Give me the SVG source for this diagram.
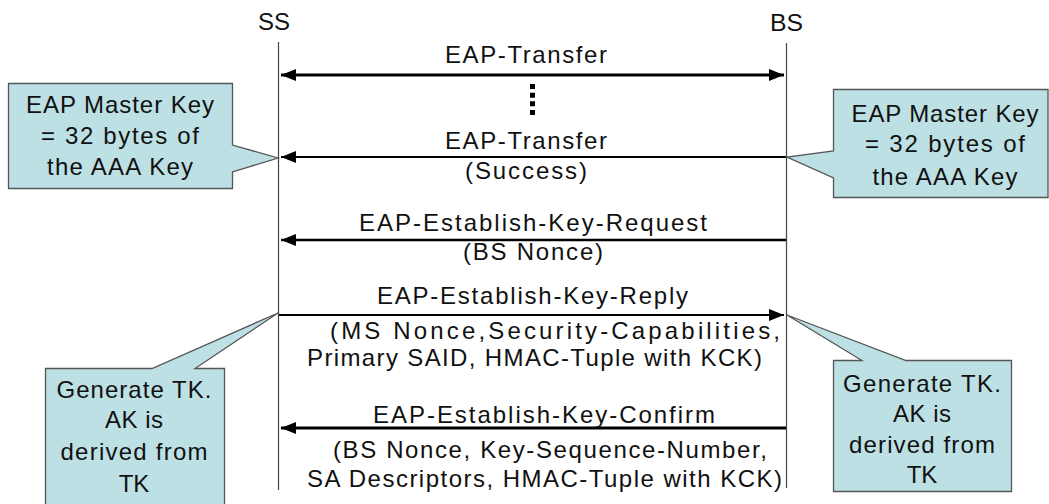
<svg xmlns="http://www.w3.org/2000/svg" width="1049" height="504" viewBox="0 0 1049 504">
<style>
text{font-family:"Liberation Sans","DejaVu Sans",sans-serif;font-size:24px;fill:#111}
.c{text-anchor:middle}
.life{stroke:#444;stroke-width:1.2;fill:none}
.msg{stroke:#000;fill:none}
.call{fill:#bde0e4;stroke:#555;stroke-width:1.3}
</style>
<defs>
<marker id="ah" markerUnits="userSpaceOnUse" markerWidth="16" markerHeight="12" refX="15" refY="6" orient="auto-start-reverse" viewBox="0 0 16 12">
<path d="M0,0 L15,6 L0,12 Z" fill="#000"/>
</marker>
</defs>
<rect width="1049" height="504" fill="#fff"/>
<g id="ss">
<text x="258" y="30" textLength="32" lengthAdjust="spacingAndGlyphs">SS</text>
<line class="life" x1="278.5" y1="42" x2="278.5" y2="490"/>
</g>
<g id="bs">
<text x="770" y="31" textLength="33" lengthAdjust="spacingAndGlyphs">BS</text>
<line class="life" x1="786.5" y1="43" x2="786.5" y2="488"/>
</g>
<g id="connectors">
<line class="msg" x1="281" y1="75" x2="784" y2="75" stroke-width="3" marker-start="url(#ah)" marker-end="url(#ah)"/>
<line x1="532.5" y1="84" x2="532.5" y2="115" stroke="#000" stroke-width="5" stroke-dasharray="5 3.67"/>
<line class="msg" x1="786" y1="157" x2="281" y2="157" stroke-width="2" marker-end="url(#ah)"/>
<line class="msg" x1="786" y1="240" x2="281" y2="240" stroke-width="2.5" marker-end="url(#ah)"/>
<line class="msg" x1="279" y1="315" x2="784" y2="315" stroke-width="2" marker-end="url(#ah)"/>
<line class="msg" x1="786" y1="428" x2="281" y2="428" stroke-width="3" marker-end="url(#ah)"/>
</g>
<g id="labels">
<text x="445" y="63" textLength="162" lengthAdjust="spacing">EAP-Transfer</text>
<text x="445" y="149" textLength="162" lengthAdjust="spacing">EAP-Transfer</text>
<text x="465" y="179" textLength="122" lengthAdjust="spacing">(Success)</text>
<text x="359" y="231" textLength="348" lengthAdjust="spacing">EAP-Establish-Key-Request</text>
<text x="463" y="260" textLength="140" lengthAdjust="spacing">(BS Nonce)</text>
<text x="377" y="304" textLength="311" lengthAdjust="spacing">EAP-Establish-Key-Reply</text>
<text x="330" y="339" textLength="450" lengthAdjust="spacing">(MS Nonce,Security-Capabilities,</text>
<text x="307" y="366" textLength="455" lengthAdjust="spacing">Primary SAID, HMAC-Tuple with KCK)</text>
<text x="373" y="423" textLength="342" lengthAdjust="spacing">EAP-Establish-Key-Confirm</text>
<text x="333" y="458" textLength="434" lengthAdjust="spacing">(BS Nonce, Key-Sequence-Number,</text>
<text x="307" y="487" textLength="475" lengthAdjust="spacing">SA Descriptors, HMAC-Tuple with KCK)</text>
</g>
<g id="callout-ss-mk">
<path class="call" d="M8.5,83.5 H232.5 V145 L278,158 L232.5,172 V188.5 H8.5 Z"/>
<text class="c" x="120" y="113" textLength="188" lengthAdjust="spacing">EAP Master Key</text>
<text class="c" x="120" y="144" textLength="158" lengthAdjust="spacing">= 32 bytes of</text>
<text class="c" x="120" y="175" textLength="146" lengthAdjust="spacing">the AAA Key</text>
</g>
<g id="callout-bs-mk">
<path class="call" d="M833.5,89.5 H1048 V197.5 H833.5 V178 L787,157 L833.5,151 Z"/>
<text class="c" x="945" y="122" textLength="187" lengthAdjust="spacing">EAP Master Key</text>
<text class="c" x="945" y="152" textLength="160" lengthAdjust="spacing">= 32 bytes of</text>
<text class="c" x="945" y="185" textLength="145" lengthAdjust="spacing">the AAA Key</text>
</g>
<g id="callout-ss-tk">
<path class="call" d="M45.5,368.5 H152 L278,313 L195,368.5 H224.5 V510 H45.5 Z"/>
<text class="c" x="134" y="398" textLength="155" lengthAdjust="spacing">Generate TK.</text>
<text class="c" x="134" y="428" textLength="58" lengthAdjust="spacing">AK is</text>
<text class="c" x="134" y="460" textLength="147" lengthAdjust="spacing">derived from</text>
<text class="c" x="134" y="492">TK</text>
</g>
<g id="callout-bs-tk">
<path class="call" d="M833.5,360.5 H862 L787,315 L906,360.5 H1011.5 V491.5 H833.5 Z"/>
<text class="c" x="922" y="392" textLength="158" lengthAdjust="spacing">Generate TK.</text>
<text class="c" x="922" y="422" textLength="58" lengthAdjust="spacing">AK is</text>
<text class="c" x="922" y="453" textLength="146" lengthAdjust="spacing">derived from</text>
<text class="c" x="922" y="483">TK</text>
</g>
</svg>
